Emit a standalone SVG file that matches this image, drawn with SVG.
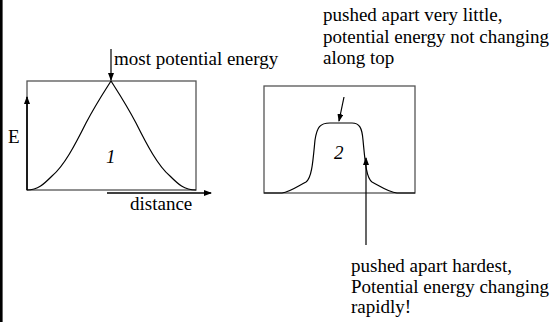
<svg xmlns="http://www.w3.org/2000/svg" width="556" height="322" viewBox="0 0 556 322">
<style>
.box{fill:none;stroke:#555;stroke-width:1.3}
.curve{fill:none;stroke:#000;stroke-width:1.2}
.ln{fill:none;stroke:#000;stroke-width:1.2}
.ax{fill:none;stroke:#000;stroke-width:1.6}
</style>
<defs>
<marker id="ah" markerWidth="8" markerHeight="6" refX="7" refY="3" orient="auto" markerUnits="userSpaceOnUse">
<path d="M0,0 L8,3 L0,6 z" fill="#000"/>
</marker>
</defs>
<rect x="0" y="0" width="2.6" height="322" fill="#000"/>
<g id="plot1">
<rect class="box" x="27" y="81" width="169" height="109"/>
<path class="curve" d="M27,190 C38,190 44,184 52,176 C64,166 75,145 86,123 C96,104 104,92 111,81 C118,92 126,104 136,123 C147,145 158,166 170,176 C178,184 184,190 196,190"/>
<text x="106" y="163" font-family="Times New Roman, Liberation Serif, serif" font-size="19" font-style="italic">1</text>
</g>
<g id="plot2">
<rect class="box" x="264" y="86" width="151" height="107"/>
<path class="curve" d="M264,193 L282,193 C290,192 298,186 306,182 C312,178 313,160 315,140 C317,127 320,123 330,123 L352,123 C359,123 362,127 363,140 C365,160 366,178 372,182 C380,186 388,192 397,193 L415,193"/>
<text x="334" y="159" font-family="Times New Roman, Liberation Serif, serif" font-size="19" font-style="italic">2</text>
</g>
<g id="connectors">
<line class="ln" x1="111" y1="49" x2="111" y2="80" marker-end="url(#ah)"/>
<line class="ax" x1="27" y1="190" x2="27" y2="97" marker-end="url(#ah)"/>
<line class="ax" x1="107" y1="193" x2="211" y2="193" marker-end="url(#ah)"/>
<line class="ln" x1="344" y1="97" x2="339" y2="121" marker-end="url(#ah)"/>
<line class="ln" x1="366" y1="245" x2="366" y2="158" marker-end="url(#ah)"/>
</g>
<g id="labels" font-family="Times New Roman, Liberation Serif, serif" font-size="19">
<text x="114" y="65">most potential energy</text>
<text x="8" y="143">E</text>
<text x="130" y="210">distance</text>
<text x="323" y="21">pushed apart very little,</text>
<text x="323" y="43">potential energy not changing</text>
<text x="323" y="64">along top</text>
<text x="351" y="272">pushed apart hardest,</text>
<text x="351" y="293">Potential energy changing</text>
<text x="351" y="313">rapidly!</text>
</g>
</svg>
